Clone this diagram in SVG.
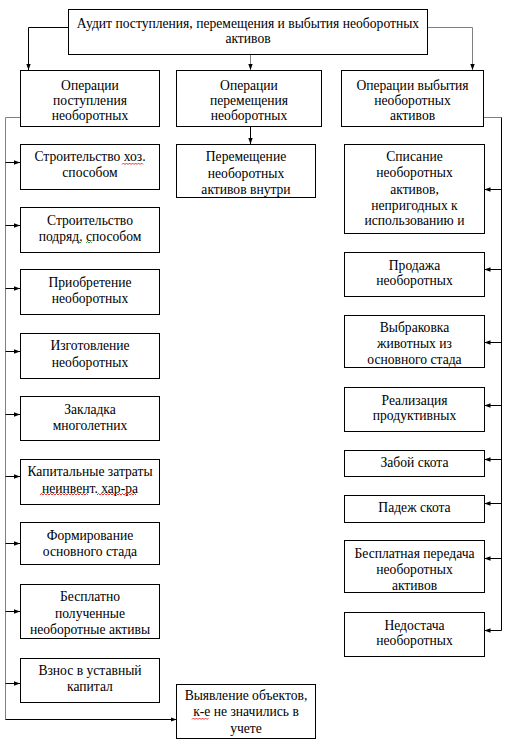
<svg xmlns="http://www.w3.org/2000/svg" width="523" height="742" viewBox="0 0 523 742">
<defs>
<style>
.b{fill:#fff;stroke:#000;stroke-width:1}
.t{font-family:'Liberation Serif','Times New Roman',serif;font-size:13.6px;fill:#000;text-anchor:middle}
.c{fill:none;stroke:#000;stroke-width:1}
.g{stroke:#808080}
.w{fill:none;stroke-width:0.8}
</style>
<marker id="ah" viewBox="0 0 6 6" refX="6" refY="3" markerWidth="6" markerHeight="6" markerUnits="userSpaceOnUse" orient="auto">
<path d="M0,0.8 L6,3 L0,5.2 Z" fill="#000"/>
</marker>
</defs>
<rect width="523" height="742" fill="#fff"/>
<g id="connectors">
<path class="c" d="M68.5,27.5 H28.5 V70" marker-end="url(#ah)"/>
<path class="c g" d="M250.5,54 V70" marker-end="url(#ah)"/>
<path class="c g" d="M427,27.5 H472.5 V70" marker-end="url(#ah)"/>
<path class="c g" d="M20,117.5 H5.5 V719.5"/>
<path class="c" d="M5.5,719.5 H176.5" marker-end="url(#ah)"/>
<path class="c" d="M5.5,162.5 H20" marker-end="url(#ah)"/>
<path class="c" d="M5.5,225.5 H20" marker-end="url(#ah)"/>
<path class="c" d="M5.5,288.5 H20" marker-end="url(#ah)"/>
<path class="c" d="M5.5,351.5 H20" marker-end="url(#ah)"/>
<path class="c" d="M5.5,414.5 H20" marker-end="url(#ah)"/>
<path class="c" d="M5.5,476.5 H20" marker-end="url(#ah)"/>
<path class="c" d="M5.5,543.5 H20" marker-end="url(#ah)"/>
<path class="c" d="M5.5,611.5 H20" marker-end="url(#ah)"/>
<path class="c" d="M5.5,683.5 H20" marker-end="url(#ah)"/>
<path class="c" d="M250.5,126 V144" marker-end="url(#ah)"/>
<path class="c g" d="M484,117.5 H501.5"/>
<path class="c" d="M501.5,117.5 V630.5"/>
<path class="c" d="M501.5,189.5 H484.5" marker-end="url(#ah)"/>
<path class="c" d="M501.5,269.5 H484.5" marker-end="url(#ah)"/>
<path class="c" d="M501.5,342.5 H484.5" marker-end="url(#ah)"/>
<path class="c" d="M501.5,405.5 H484.5" marker-end="url(#ah)"/>
<path class="c" d="M501.5,459.5 H484.5" marker-end="url(#ah)"/>
<path class="c" d="M501.5,503.5 H484.5" marker-end="url(#ah)"/>
<path class="c" d="M501.5,558.5 H484.5" marker-end="url(#ah)"/>
<path class="c" d="M501.5,630.5 H484.5" marker-end="url(#ah)"/>
</g>
<g id="top"><rect class="b" x="68.5" y="9.5" width="359" height="45"/>
<text class="t" x="248" y="27.5">Аудит поступления, перемещения и выбытия необоротных</text>
<text class="t" x="248" y="42.5">активов</text></g>
<g id="op-in"><rect class="b" x="20.5" y="70.5" width="139" height="56"/>
<text class="t" x="90" y="89.5">Операции</text><text class="t" x="90" y="104.5">поступления</text><text class="t" x="90" y="119.5">необоротных</text></g>
<g id="op-move"><rect class="b" x="176.5" y="70.5" width="145" height="56"/>
<text class="t" x="249" y="89.5">Операции</text><text class="t" x="249" y="104.5">перемещения</text><text class="t" x="249" y="119.5">необоротных</text></g>
<g id="op-out"><rect class="b" x="341.5" y="70.5" width="142" height="56"/>
<text class="t" x="412.5" y="89.5">Операции выбытия</text><text class="t" x="412.5" y="104.5">необоротных</text><text class="t" x="412.5" y="119.5">активов</text></g>

<g id="l1"><rect class="b" x="20.5" y="144.5" width="139" height="45"/>
<text class="t" x="90" y="161">Строительство хоз.</text><text class="t" x="90" y="177">способом</text></g>
<g id="l2"><rect class="b" x="20.5" y="207.5" width="139" height="45"/>
<text class="t" x="90" y="224.5">Строительство</text><text class="t" x="90" y="240.5">подряд. способом</text></g>
<g id="l3"><rect class="b" x="20.5" y="269.5" width="139" height="45"/>
<text class="t" x="90" y="287">Приобретение</text><text class="t" x="90" y="303">необоротных</text></g>
<g id="l4"><rect class="b" x="20.5" y="333.5" width="139" height="45"/>
<text class="t" x="90" y="350">Изготовление</text><text class="t" x="90" y="366.5">необоротных</text></g>
<g id="l5"><rect class="b" x="20.5" y="396.5" width="139" height="44"/>
<text class="t" x="90" y="413.5">Закладка</text><text class="t" x="90" y="429.5">многолетних</text></g>
<g id="l6"><rect class="b" x="20.5" y="459.5" width="139" height="45"/>
<text class="t" x="90" y="476">Капитальные затраты</text><text class="t" x="90" y="492.5">неинвент.  хар-ра</text></g>
<g id="l7"><rect class="b" x="20.5" y="522.5" width="139" height="42"/>
<text class="t" x="90" y="539.5">Формирование</text><text class="t" x="90" y="556">основного стада</text></g>
<g id="l8"><rect class="b" x="20.5" y="584.5" width="139" height="54"/>
<text class="t" x="90" y="601">Бесплатно</text><text class="t" x="90" y="617.5">полученные</text><text class="t" x="90" y="633.5">необоротные активы</text></g>
<g id="l9"><rect class="b" x="20.5" y="658.5" width="139" height="44"/>
<text class="t" x="90" y="674.5">Взнос в уставный</text><text class="t" x="90" y="690.5">капитал</text></g>

<g id="m1"><rect class="b" x="176.5" y="144.5" width="139" height="53"/>
<text class="t" x="246" y="160.5">Перемещение</text><text class="t" x="246" y="177.5">необоротных</text><text class="t" x="246" y="193.5">активов внутри</text></g>
<g id="m2"><rect class="b" x="176.5" y="684.5" width="139" height="54"/>
<text class="t" x="246" y="699.5">Выявление объектов,</text><text class="t" x="246" y="716">к-е не значились в</text><text class="t" x="246" y="732.5">учете</text></g>

<g id="r1"><rect class="b" x="344.5" y="144.5" width="140" height="89"/>
<text class="t" x="414.5" y="160.5">Списание</text><text class="t" x="414.5" y="177">необоротных</text><text class="t" x="414.5" y="193.5">активов,</text><text class="t" x="414.5" y="209.5">непригодных к</text><text class="t" x="414.5" y="225">использованию и</text></g>
<g id="r2"><rect class="b" x="344.5" y="252.5" width="140" height="44"/>
<text class="t" x="414.5" y="269.5">Продажа</text><text class="t" x="414.5" y="284.5">необоротных</text></g>
<g id="r3"><rect class="b" x="344.5" y="315.5" width="140" height="52"/>
<text class="t" x="414.5" y="331.5">Выбраковка</text><text class="t" x="414.5" y="348">животных из</text><text class="t" x="414.5" y="364">основного стада</text></g>
<g id="r4"><rect class="b" x="344.5" y="387.5" width="140" height="44"/>
<text class="t" x="414.5" y="404.5">Реализация</text><text class="t" x="414.5" y="420">продуктивных</text></g>
<g id="r5"><rect class="b" x="344.5" y="450.5" width="140" height="26"/>
<text class="t" x="414.5" y="467">Забой скота</text></g>
<g id="r6"><rect class="b" x="344.5" y="495.5" width="140" height="27"/>
<text class="t" x="414.5" y="512">Падеж  скота</text></g>
<g id="r7"><rect class="b" x="344.5" y="540.5" width="140" height="52"/>
<text class="t" x="414.5" y="557.5">Бесплатная передача</text><text class="t" x="414.5" y="574">необоротных</text><text class="t" x="414.5" y="589.5">активов</text></g>
<g id="r8"><rect class="b" x="344.5" y="612.5" width="140" height="44"/>
<text class="t" x="414.5" y="629.5">Недостача</text><text class="t" x="414.5" y="645">необоротных</text></g>

<g id="spellcheck">
<path class="w" stroke="#e00" d="M122,164.5 l1.5,-1.5 1.5,1.5 1.5,-1.5 1.5,1.5 1.5,-1.5 1.5,1.5 1.5,-1.5 1.5,1.5 1.5,-1.5 1.5,1.5 1.5,-1.5 1.5,1.5 1.5,-1.5 1.5,1.5"/>
<path class="w" stroke="#080" d="M77,243 l1.5,-1.5 1.5,1.5 1.5,-1.5 M86,243 l1.5,-1.5 1.5,1.5 1.5,-1.5 1.5,1.5"/>
<path class="w" stroke="#e00" d="M40,495 l1.5,-1.5 1.5,1.5 1.5,-1.5 1.5,1.5 1.5,-1.5 1.5,1.5 1.5,-1.5 1.5,1.5 1.5,-1.5 1.5,1.5 1.5,-1.5 1.5,1.5 1.5,-1.5 1.5,1.5 1.5,-1.5 1.5,1.5 1.5,-1.5 1.5,1.5 1.5,-1.5 1.5,1.5 1.5,-1.5 1.5,1.5 1.5,-1.5 1.5,1.5 1.5,-1.5 1.5,1.5 1.5,-1.5 1.5,1.5 1.5,-1.5 1.5,1.5 1.5,-1.5 1.5,1.5 M97,495 l1.5,-1.5 1.5,1.5 1.5,-1.5 1.5,1.5 1.5,-1.5 1.5,1.5 1.5,-1.5 1.5,1.5 1.5,-1.5 1.5,1.5 1.5,-1.5 1.5,1.5 1.5,-1.5 1.5,1.5 1.5,-1.5 1.5,1.5 1.5,-1.5 1.5,1.5 1.5,-1.5 1.5,1.5 1.5,-1.5 1.5,1.5 1.5,-1.5 1.5,1.5 1.5,-1.5 1.5,1.5"/>
<path class="w" stroke="#e00" d="M192,719.5 l1.5,-1.5 1.5,1.5 1.5,-1.5 1.5,1.5 1.5,-1.5 1.5,1.5 1.5,-1.5 1.5,1.5 1.5,-1.5 1.5,1.5 1.5,-1.5"/>
</g>
</svg>
